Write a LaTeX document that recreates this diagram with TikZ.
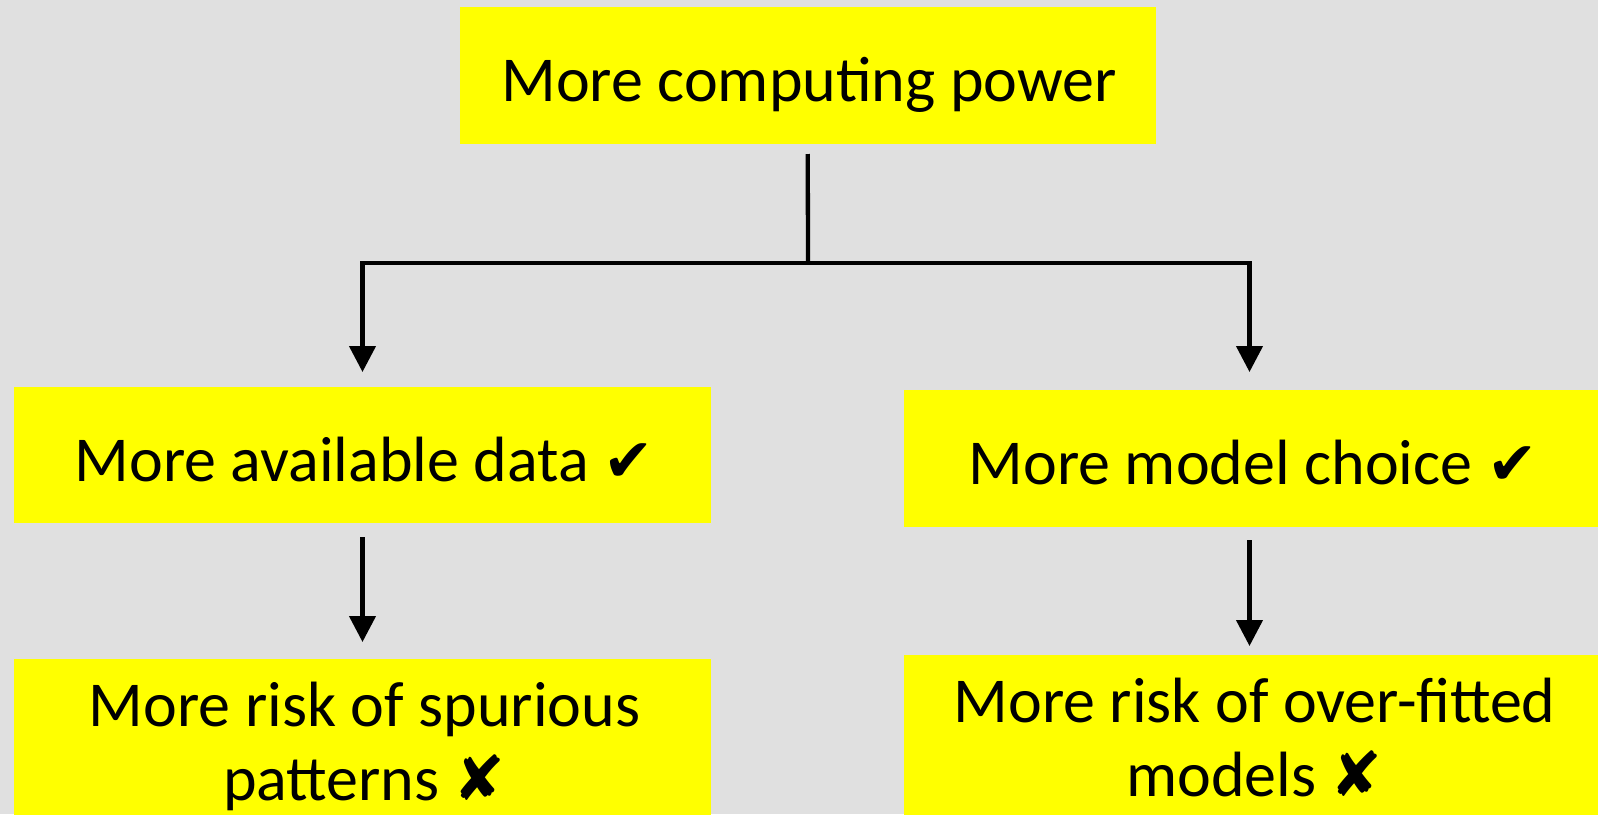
\documentclass[tikz,border=0pt]{standalone}
\usepackage{fontspec}
\setmainfont{Carlito}
\newfontfamily\symfont{DejaVu Sans}
\usetikzlibrary{arrows.meta}
\definecolor{bggray}{RGB}{224,224,224}
\definecolor{boxyellow}{RGB}{255,255,0}
% check and cross marks, kept out of the line spacing
\newcommand{\yes}{\raisebox{0pt}[0pt][0pt]{\symfont\fontsize{60pt}{60pt}\selectfont ✔}}
\newcommand{\no}{\raisebox{0pt}[0pt][0pt]{\symfont\fontsize{62pt}{60pt}\selectfont ✘}}
\tikzset{
  box/.style={fill=boxyellow, inner sep=0pt, outer sep=0pt},
  lbl/.style={font=\fontsize{64pt}{74pt}\selectfont, inner sep=0pt, anchor=base, align=center},
  link/.style={line width=4.3pt, draw=black},
  arr/.style={link, -{Triangle[width=26pt,length=26pt]}}
}
\begin{document}
\begin{tikzpicture}[x=1pt, y=-1pt]
  % canvas
  \fill[bggray] (0,0) rectangle (1598,814);
  \useasboundingbox (0,0) rectangle (1598,814);

  % boxes
  \node[box, minimum width=696.5pt, minimum height=137pt] (top) at (807.75,75.5) {};
  \node[box, minimum width=697pt, minimum height=136pt] (ml) at (362.5,455) {};
  \node[box, minimum width=694pt, minimum height=137pt] (mr) at (1251,458.5) {};
  \node[box, minimum width=697pt, minimum height=171pt] (bl) at (362.5,744.5) {};
  \node[box, minimum width=694pt, minimum height=175pt] (br) at (1251,742.5) {};

  % labels (base anchor of a two-line label is its last line)
  \node[lbl] (topt) at (809,101) {More computing power};
  \node[lbl] (mlt) at (364,481) {More available data \yes};
  \node[lbl] (mrt) at (1253,484) {More model choice \yes};
  \node[lbl] (blt) at (364.5,800) {More risk of spurious\\patterns \no};
  \node[lbl] (brt) at (1254.5,796) {More risk of over-fitted\\models \no};

  % connectors
  \coordinate (split) at (808,263);
  \draw[link] ([yshift=-10pt]top.south) -- (split);
  \draw[arr] (split) -| ([yshift=15pt]ml.north);
  \draw[arr] (split) -| ([xshift=-1.5pt,yshift=18pt]mr.north);
  \draw[arr] ([yshift=-14pt]ml.south) -- ([yshift=17pt]bl.north);
  \draw[arr] ([xshift=-1.5pt,yshift=-13pt]mr.south) -- ([xshift=-1.5pt,yshift=9pt]br.north);
\end{tikzpicture}
\end{document}
